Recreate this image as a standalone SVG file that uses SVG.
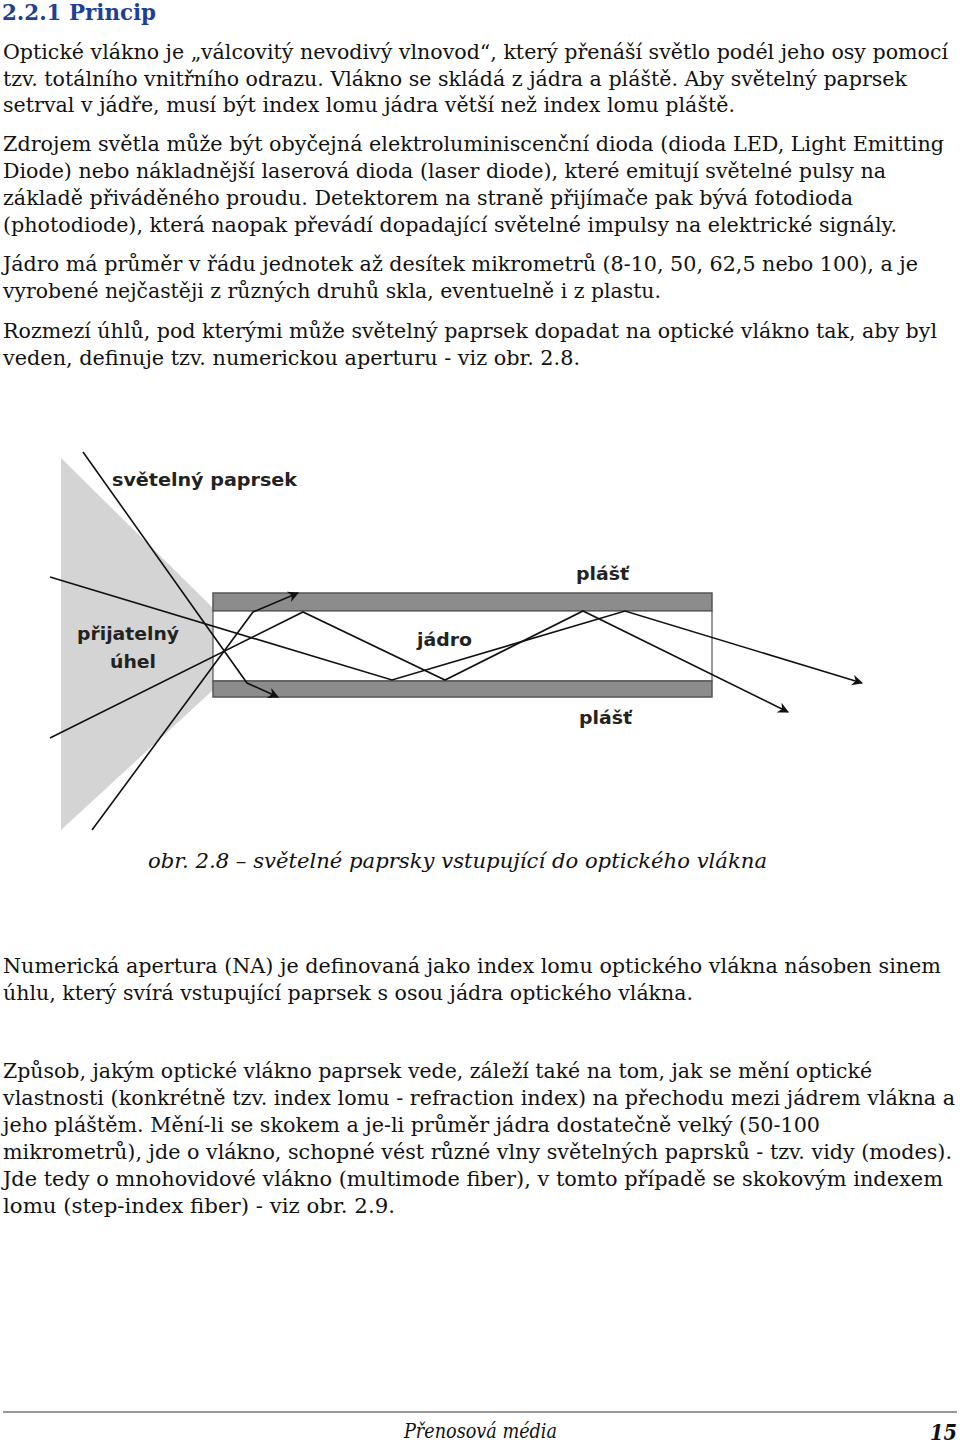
<svg xmlns="http://www.w3.org/2000/svg" width="960" height="1444" viewBox="0 0 960 1444">
<style>
.b{font-family:"DejaVu Serif","Liberation Serif",serif;font-size:20px;fill:#111}
.l{font-family:"DejaVu Sans","Verdana",sans-serif;font-size:18px;font-weight:bold;fill:#222}
.r{fill:none;stroke:#111;stroke-width:1.6}
.c{fill:#8c8c8c;stroke:#555;stroke-width:1.5}
</style>
<defs><marker id="a" viewBox="0 0 10 10" refX="9" refY="5" markerWidth="12" markerHeight="11" orient="auto" markerUnits="userSpaceOnUse"><path d="M0,0L10,5L0,10L3,5z" fill="#111"/></marker></defs>
<rect width="960" height="1444" fill="#fff"/>
<text x="2" y="20" font-family="DejaVu Serif,serif" font-size="22" font-weight="bold" fill="#1f3f94" textLength="154" lengthAdjust="spacingAndGlyphs">2.2.1 Princip</text>
<g class="b">
<text x="3" y="59" textLength="945" lengthAdjust="spacingAndGlyphs">Optické vlákno je „válcovitý nevodivý vlnovod“, který přenáší světlo podél jeho osy pomocí</text>
<text x="3" y="86" textLength="904" lengthAdjust="spacingAndGlyphs">tzv. totálního vnitřního odrazu. Vlákno se skládá z jádra a pláště. Aby světelný paprsek</text>
<text x="3" y="112" textLength="732" lengthAdjust="spacingAndGlyphs">setrval v jádře, musí být index lomu jádra větší než index lomu pláště.</text>
<text x="3" y="151" textLength="941" lengthAdjust="spacingAndGlyphs">Zdrojem světla může být obyčejná elektroluminiscenční dioda (dioda LED, Light Emitting</text>
<text x="3" y="178" textLength="883" lengthAdjust="spacingAndGlyphs">Diode) nebo nákladnější laserová dioda (laser diode), které emitují světelné pulsy na</text>
<text x="3" y="205" textLength="850" lengthAdjust="spacingAndGlyphs">základě přiváděného proudu. Detektorem na straně přijímače pak bývá fotodioda</text>
<text x="3" y="232" textLength="894" lengthAdjust="spacingAndGlyphs">(photodiode), která naopak převádí dopadající světelné impulsy na elektrické signály.</text>
<text x="3" y="271" textLength="915" lengthAdjust="spacingAndGlyphs">Jádro má průměr v řádu jednotek až desítek mikrometrů (8-10, 50, 62,5 nebo 100), a je</text>
<text x="3" y="298" textLength="658" lengthAdjust="spacingAndGlyphs">vyrobené nejčastěji z různých druhů skla, eventuelně i z plastu.</text>
<text x="3" y="338" textLength="934" lengthAdjust="spacingAndGlyphs">Rozmezí úhlů, pod kterými může světelný paprsek dopadat na optické vlákno tak, aby byl</text>
<text x="3" y="365" textLength="577" lengthAdjust="spacingAndGlyphs">veden, definuje tzv. numerickou aperturu - viz obr. 2.8.</text>
<text x="148" y="868" font-style="italic" textLength="619" lengthAdjust="spacingAndGlyphs">obr. 2.8 – světelné paprsky vstupující do optického vlákna</text>
<text x="3" y="973" textLength="938" lengthAdjust="spacingAndGlyphs">Numerická apertura (NA) je definovaná jako index lomu optického vlákna násoben sinem</text>
<text x="3" y="1000" textLength="690" lengthAdjust="spacingAndGlyphs">úhlu, který svírá vstupující paprsek s osou jádra optického vlákna.</text>
<text x="3" y="1078" textLength="869" lengthAdjust="spacingAndGlyphs">Způsob, jakým optické vlákno paprsek vede, záleží také na tom, jak se mění optické</text>
<text x="3" y="1105" textLength="952" lengthAdjust="spacingAndGlyphs">vlastnosti (konkrétně tzv. index lomu - refraction index) na přechodu mezi jádrem vlákna a</text>
<text x="3" y="1132" textLength="817" lengthAdjust="spacingAndGlyphs">jeho pláštěm. Mění-li se skokem a je-li průměr jádra dostatečně velký (50-100</text>
<text x="3" y="1159" textLength="949" lengthAdjust="spacingAndGlyphs">mikrometrů), jde o vlákno, schopné vést různé vlny světelných paprsků - tzv. vidy (modes).</text>
<text x="3" y="1186" textLength="940" lengthAdjust="spacingAndGlyphs">Jde tedy o mnohovidové vlákno (multimode fiber), v tomto případě se skokovým indexem</text>
<text x="3" y="1213" textLength="392" lengthAdjust="spacingAndGlyphs">lomu (step-index fiber)  - viz obr. 2.9.</text>
<text x="404" y="1438" font-style="italic" textLength="153" lengthAdjust="spacingAndGlyphs">Přenosová média</text>
<text x="930" y="1440" font-style="italic" font-weight="bold" font-size="22" textLength="27" lengthAdjust="spacingAndGlyphs">15</text>
</g>
<line x1="3" y1="1412" x2="957" y2="1412" stroke="#333" stroke-width="1.2"/>
<g id="cone"><polygon points="61,458 213,608 213,690 61,830" fill="#d4d4d4"/></g>
<g id="fiber">
<rect class="c" x="213" y="593" width="499" height="18"/>
<rect x="213" y="611" width="499" height="70" fill="#fff" stroke="#555" stroke-width="1.2"/>
<rect class="c" x="213" y="681" width="499" height="16"/>
</g>
<g id="connectors">
<polyline class="r" points="83,452 247,683 278,697" marker-end="url(#a)"/>
<polyline class="r" points="50,577 392,680 625,611 862,683" marker-end="url(#a)"/>
<polyline class="r" points="50,738 303,612 445,680 583,611 788,712" marker-end="url(#a)"/>
<polyline class="r" points="92,830 253,612 298,593" marker-end="url(#a)"/>
</g>
<g class="l">
<text x="112" y="486" textLength="185" lengthAdjust="spacingAndGlyphs">světelný paprsek</text>
<text x="77" y="640" textLength="102" lengthAdjust="spacingAndGlyphs">přijatelný</text>
<text x="110" y="668" textLength="46" lengthAdjust="spacingAndGlyphs">úhel</text>
<text x="417" y="646" textLength="55" lengthAdjust="spacingAndGlyphs">jádro</text>
<text x="576" y="580" textLength="53" lengthAdjust="spacingAndGlyphs">plášť</text>
<text x="579" y="724" textLength="53" lengthAdjust="spacingAndGlyphs">plášť</text>
</g>
</svg>
